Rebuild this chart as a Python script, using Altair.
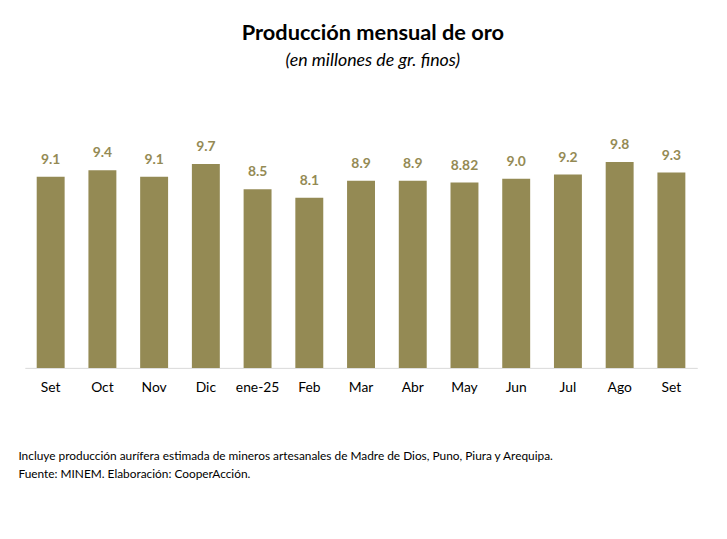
import altair as alt
import pandas as pd

months = ["Set", "Oct", "Nov", "Dic", "ene-25", "Feb", "Mar", "Abr", "May", "Jun", "Jul", "Ago", "Set"]
values = [9.1, 9.4, 9.1, 9.7, 8.5, 8.1, 8.9, 8.9, 8.82, 9.0, 9.2, 9.8, 9.3]
labels = ["9.1", "9.4", "9.1", "9.7", "8.5", "8.1", "8.9", "8.9", "8.82", "9.0", "9.2", "9.8", "9.3"]

df = pd.DataFrame({"idx": list(range(len(months))), "mes": months, "valor": values, "etiqueta": labels})

FONT = "Lato"
OLIVE = "#948A54"
label_expr = "[" + ",".join('"%s"' % m for m in months) + "][datum.value]"

base = alt.Chart(df).encode(
    x=alt.X(
        "idx:O",
        scale=alt.Scale(paddingInner=0.46, paddingOuter=0.23),
        axis=alt.Axis(
            labelExpr=label_expr,
            labelAngle=0,
            labelFont=FONT,
            labelFontSize=14,
            labelColor="#000000",
            labelPadding=13,
            ticks=False,
            domainColor="#D9D9D9",
            domainWidth=1,
            title=[
                "Incluye producción aurífera estimada de mineros artesanales de Madre de Dios, Puno, Piura y Arequipa.",
                "Fuente: MINEM. Elaboración: CooperAcción.",
            ],
            titleFont=FONT,
            titleFontSize=12,
            titleFontWeight="normal",
            titleColor="#000000",
            titleAnchor="start",
            titleAlign="left",
            titleBaseline="alphabetic",
            titleX=-7,
            titleY=93,
            titleLineHeight=18,
        ),
    ),
    y=alt.Y("valor:Q", scale=alt.Scale(domain=[0, 12]), axis=None),
)

bars = base.mark_bar(color=OLIVE)
text = base.mark_text(
    dy=-13, baseline="alphabetic", font=FONT, fontSize=14, fontWeight="bold", color=OLIVE
).encode(text="etiqueta:N")

chart = (
    (bars + text)
    .properties(
        width=680,
        height=255,
        background="white",
        autosize=alt.AutoSizeParams(type="none"),
        padding={"left": 17, "top": 106, "right": 22, "bottom": 160},
        title=alt.TitleParams(
            text="Producción mensual de oro",
            subtitle="(en millones de gr. finos)",
            font=FONT,
            fontSize=22,
            fontWeight="bold",
            color="#000000",
            subtitleFont=FONT,
            subtitleFontSize=18,
            subtitleFontStyle="italic",
            subtitleColor="#000000",
            subtitlePadding=8,
            anchor="middle",
            offset=45,
            dx=12,
        ),
    )
    .configure_view(stroke="transparent", strokeWidth=0)
)

chart.save("out.html", embed_options={"renderer": "svg", "actions": False})
